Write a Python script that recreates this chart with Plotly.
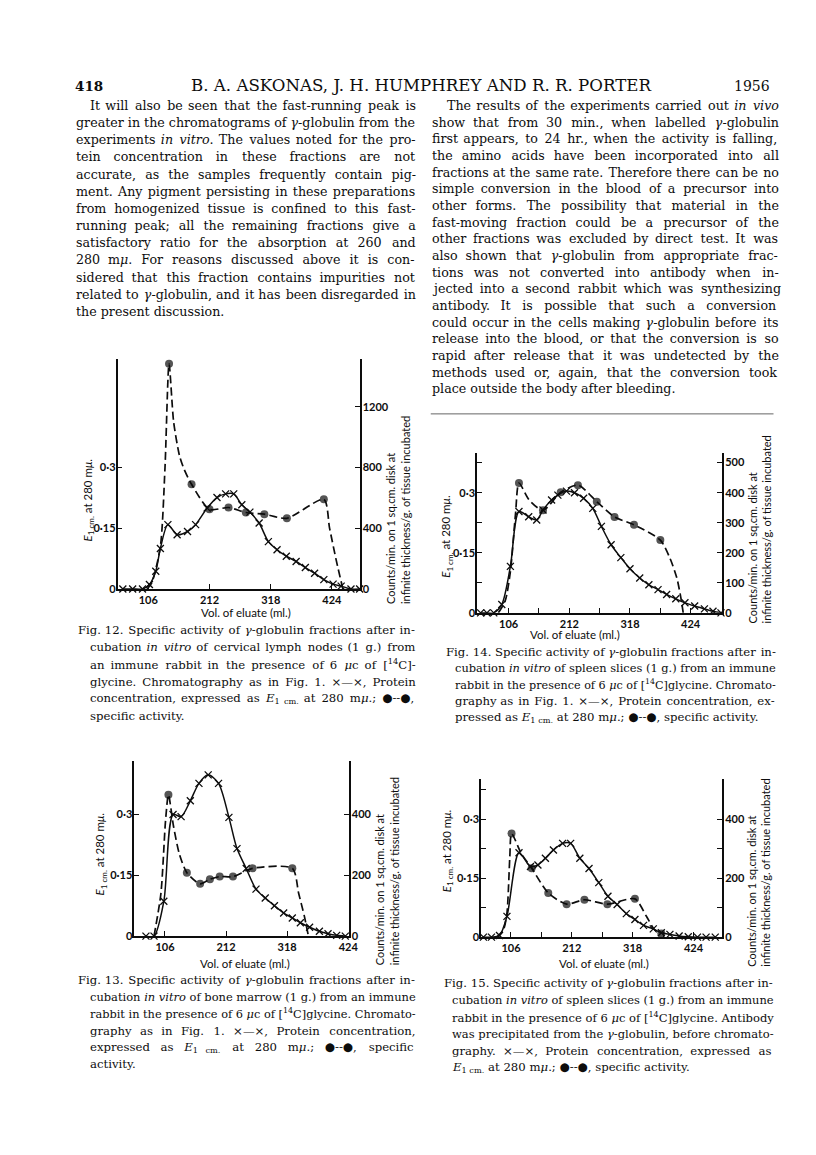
import glob
import re
import struct

import plotly.graph_objects as go

W, H = 816, 1155

# ---------------- data (read from the page) ----------------
# Fig. 12
f12_prot_x = [62, 79, 96, 108, 119, 127, 140, 156, 174, 188, 208, 225, 240, 254, 268, 282, 298, 314, 329, 345, 362, 378, 394, 410, 426, 440, 457, 472]
f12_prot_y = [0, 0, 0, 0.011, 0.044, 0.10, 0.159, 0.134, 0.142, 0.159, 0.20, 0.226, 0.235, 0.235, 0.208, 0.19, 0.163, 0.117, 0.097, 0.081, 0.068, 0.053, 0.039, 0.023, 0.012, 0.007, 0, 0]
f12_act_x = [104, 112, 127, 135, 142, 150, 160, 168, 181, 212, 245, 275, 307, 346, 410, 420, 432, 443]
f12_act_y = [0, 40, 280, 800, 1485, 1100, 880, 790, 690, 525, 537, 504, 493, 466, 591, 400, 180, 0]
f12_act_measured = [0, 0, 0, 0, 1, 0, 0, 0, 1, 1, 1, 1, 1, 1, 1, 0, 0, 0]

# Fig. 14
f14_prot_x = [57, 68, 80, 94, 109, 124, 141, 155, 166, 181, 192, 207, 221, 237, 253, 268, 285, 302, 318, 335, 351, 367, 382, 398, 414, 431, 448, 463, 477]
f14_prot_y = [0, 0, 0, 0.021, 0.116, 0.253, 0.24, 0.232, 0.257, 0.282, 0.294, 0.304, 0.300, 0.286, 0.261, 0.216, 0.170, 0.138, 0.110, 0.087, 0.070, 0.058, 0.046, 0.035, 0.025, 0.017, 0.010, 0.004, 0]
f14_act_x = [88, 100, 109, 118, 124, 142, 166, 197, 227, 260, 291, 325, 371, 388, 400, 407, 411]
f14_act_y = [0, 40, 137, 330, 432, 375, 341, 401, 425, 370, 319, 293, 242, 181, 115, 49, 0]
f14_act_measured = [0, 0, 0, 0, 1, 0, 1, 1, 1, 1, 1, 1, 1, 0, 0, 0, 0]

# Fig. 13
f13_prot_x = [73, 87, 104, 120, 134, 150, 165, 181, 199, 217, 231, 247, 264, 280, 296, 312, 327, 341, 357, 374, 389, 404, 419]
f13_prot_y = [0, 0, 0.086, 0.30, 0.295, 0.334, 0.377, 0.398, 0.377, 0.293, 0.216, 0.167, 0.116, 0.094, 0.075, 0.057, 0.045, 0.033, 0.022, 0.012, 0.006, 0.002, 0]
f13_act_x = [87, 99, 107, 112, 121, 131, 144, 167, 184, 201, 224, 258, 327, 338, 348, 355]
f13_act_y = [0, 141, 380, 465, 360, 270, 209, 172, 187, 196, 196, 223, 223, 141, 65, 0]
f13_act_measured = [0, 0, 0, 1, 0, 0, 1, 1, 1, 1, 1, 1, 1, 0, 0, 0]

# Fig. 15
f15_prot_x = [58, 72, 86, 99, 120, 140, 153, 166, 180, 196, 210, 226, 242, 259, 275, 291, 307, 322, 337, 354, 368, 383, 399, 415, 431, 446, 462]
f15_prot_y = [0, 0, 0.004, 0.053, 0.215, 0.180, 0.184, 0.201, 0.222, 0.239, 0.239, 0.201, 0.175, 0.139, 0.104, 0.083, 0.060, 0.045, 0.030, 0.021, 0.011, 0.007, 0.003, 0.001, 0, 0, 0]
f15_act_x = [81, 93, 99, 104, 107, 124, 142, 171, 203, 234, 274, 322, 342, 356, 368]
f15_act_y = [0, 26, 82, 273, 352, 284, 234, 150, 112, 127, 112, 130, 71, 26, 12]
f15_act_measured = [0, 0, 0, 0, 1, 0, 1, 1, 1, 1, 1, 1, 0, 0, 1]

x_major_ticks = [106, 212, 318, 424]
x_minor_ticks = [159, 265, 371]

# ---------------- text of the page ----------------
header_left = "418"
header_mid = "B. A. ASKONAS, J. H. HUMPHREY AND R. R. PORTER"
header_right = "1956"

left_lines = [
    "It will also be seen that the fast-running peak is",
    "greater in the chromatograms of <i>γ</i>-globulin from the",
    "experiments <i>in vitro</i>. The values noted for the pro-",
    "tein concentration in these fractions are not",
    "accurate, as the samples frequently contain pig-",
    "ment. Any pigment persisting in these preparations",
    "from homogenized tissue is confined to this fast-",
    "running peak; all the remaining fractions give a",
    "satisfactory ratio for the absorption at 260 and",
    "280 m<i>μ</i>. For reasons discussed above it is con-",
    "sidered that this fraction contains impurities not",
    "related to <i>γ</i>-globulin, and it has been disregarded in",
    "the present discussion.",
]
right_lines = [
    "The results of the experiments carried out <i>in vivo</i>",
    "show that from 30 min., when labelled <i>γ</i>-globulin",
    "first appears, to 24 hr., when the activity is falling,",
    "the amino acids have been incorporated into all",
    "fractions at the same rate. Therefore there can be no",
    "simple conversion in the blood of a precursor into",
    "other forms. The possibility that material in the",
    "fast-moving fraction could be a precursor of the",
    "other fractions was excluded by direct test. It was",
    "also shown that <i>γ</i>-globulin from appropriate frac-",
    "tions was not converted into antibody when in-",
    "jected into a second rabbit which was synthesizing",
    "antibody. It is possible that such a conversion",
    "could occur in the cells making <i>γ</i>-globulin before its",
    "release into the blood, or that the conversion is so",
    "rapid after release that it was undetected by the",
    "methods used or, again, that the conversion took",
    "place outside the body after bleeding.",
]
E_TXT = "<i>E</i><sub>1 cm.</sub>"
cap12 = [
    "Fig. 12. Specific activity of <i>γ</i>-globulin fractions after in-",
    "cubation <i>in vitro</i> of cervical lymph nodes (1 g.) from",
    "an immune rabbit in the presence of 6 <i>μ</i>c of [<sup>14</sup>C]-",
    "glycine. Chromatography as in Fig. 1. ×—×, Protein",
    "concentration, expressed as " + E_TXT + " at 280 m<i>μ</i>.; ●--●,",
    "specific activity.",
]
cap14 = [
    "Fig. 14. Specific activity of <i>γ</i>-globulin fractions after in-",
    "cubation <i>in vitro</i> of spleen slices (1 g.) from an immune",
    "rabbit in the presence of 6 <i>μ</i>c of [<sup>14</sup>C]glycine. Chromato-",
    "graphy as in Fig. 1. ×—×, Protein concentration, ex-",
    "pressed as " + E_TXT + " at 280 m<i>μ</i>.; ●--●, specific activity.",
]
cap13 = [
    "Fig. 13. Specific activity of <i>γ</i>-globulin fractions after in-",
    "cubation <i>in vitro</i> of bone marrow (1 g.) from an immune",
    "rabbit in the presence of 6 <i>μ</i>c of [<sup>14</sup>C]glycine. Chromato-",
    "graphy as in Fig. 1. ×—×, Protein concentration,",
    "expressed as " + E_TXT + " at 280 m<i>μ</i>.; ●--●, specific",
    "activity.",
]
cap15 = [
    "Fig. 15. Specific activity of <i>γ</i>-globulin fractions after in-",
    "cubation <i>in vitro</i> of spleen slices (1 g.) from an immune",
    "rabbit in the presence of 6 <i>μ</i>c of [<sup>14</sup>C]glycine. Antibody",
    "was precipitated from the <i>γ</i>-globulin, before chromato-",
    "graphy. ×—×, Protein concentration, expressed as",
    E_TXT + " at 280 m<i>μ</i>.; ●--●, specific activity.",
]
E_TITLE = "<i>E</i><sub>1 cm.</sub> at 280 m<i>μ</i>."
R_TITLE = "Counts/min. on 1 sq.cm. disk at<br>infinite thickness/g. of tissue incubated"
X_TITLE = "Vol. of eluate (ml.)"


# ---------------- font metrics (for justified lines) ----------------
def load_advance(pattern):
    paths = glob.glob("/usr/share/fonts/**/" + pattern, recursive=True) + \
        glob.glob("/usr/local/share/fonts/**/" + pattern, recursive=True)
    if not paths:
        return None
    try:
        data = open(paths[0], "rb").read()
        ntab = struct.unpack(">H", data[4:6])[0]
        tabs = {}
        for i in range(ntab):
            tag, _, off, ln = struct.unpack(">4sIII", data[12 + 16 * i:28 + 16 * i])
            tabs[tag.decode("latin1")] = off
        upem = struct.unpack(">H", data[tabs["head"] + 18:tabs["head"] + 20])[0]
        nhm = struct.unpack(">H", data[tabs["hhea"] + 34:tabs["hhea"] + 36])[0]
        ho = tabs["hmtx"]
        adv = [struct.unpack(">H", data[ho + 4 * i:ho + 4 * i + 2])[0] for i in range(nhm)]
        co = tabs["cmap"]
        nsub = struct.unpack(">H", data[co + 2:co + 4])[0]
        cmap = {}
        for i in range(nsub):
            pid, eid, soff = struct.unpack(">HHI", data[co + 4 + 8 * i:co + 12 + 8 * i])
            st = co + soff
            if struct.unpack(">H", data[st:st + 2])[0] != 4:
                continue
            seg2 = struct.unpack(">H", data[st + 6:st + 8])[0]
            seg = seg2 // 2
            ends = struct.unpack(">%dH" % seg, data[st + 14:st + 14 + seg2])
            starts = struct.unpack(">%dH" % seg, data[st + 16 + seg2:st + 16 + 2 * seg2])
            deltas = struct.unpack(">%dh" % seg, data[st + 16 + 2 * seg2:st + 16 + 3 * seg2])
            rpos = st + 16 + 3 * seg2
            roffs = struct.unpack(">%dH" % seg, data[rpos:rpos + seg2])
            for s in range(seg):
                for c in range(starts[s], ends[s] + 1):
                    if c == 0xFFFF:
                        continue
                    if roffs[s] == 0:
                        g = (c + deltas[s]) & 0xFFFF
                    else:
                        a = rpos + 2 * s + roffs[s] + 2 * (c - starts[s])
                        g = struct.unpack(">H", data[a:a + 2])[0]
                        if g:
                            g = (g + deltas[s]) & 0xFFFF
                    cmap[c] = g
            break

        def advance(ch):
            g = cmap.get(ord(ch))
            if g is None:
                return None
            return (adv[g] if g < len(adv) else adv[-1]) / upem
        return advance
    except Exception:
        return None


ADV_R = load_advance("DejaVuSerif.ttf")
ADV_I = load_advance("DejaVuSerif-Italic.ttf") or ADV_R
PAD_CH, PAD_W = None, None
if ADV_R:
    for cand in ("\u200a", "\u2009", "\u2006", "\u00a0"):
        w = ADV_R(cand)
        if w:
            PAD_CH, PAD_W = cand, w
            break


def measure(s, size):
    if not ADV_R:
        return None
    total, ital, small = 0.0, False, False
    for tok in re.split(r"(<[^>]+>)", s):
        if tok.startswith("<"):
            t = tok.lower()
            if t == "<i>":
                ital = True
            elif t == "</i>":
                ital = False
            elif t in ("<sub>", "<sup>"):
                small = True
            elif t in ("</sub>", "</sup>"):
                small = False
            continue
        f = ADV_I if ital else ADV_R
        for ch in tok:
            a = f(ch)
            if a is None:
                a = ADV_R(ch) or 0.6
            total += a * size * (0.7 if small else 1.0)
    return total


def justify(s, size, width):
    """Pad the word gaps of one printed line so it fills the column width."""
    w = measure(s, size)
    if w is None or PAD_CH is None:
        return s, size
    gaps = s.count(" ")
    deficit = width - w
    if deficit < 0:
        return s, size * max(0.94, width / w)
    if gaps == 0:
        return s, size
    units = int(round(deficit / (PAD_W * size)))
    parts = s.split(" ")
    out = parts[0]
    for i in range(gaps):
        k = units * (i + 1) // gaps - units * i // gaps
        out += " " + PAD_CH * k + parts[i + 1]
    return out, size


def fit_size(groups, lo, hi, default, mode="min"):
    """Font size at which the full lines of the groups fill their measure."""
    if not ADV_R:
        return default
    ratios = []
    for lines, x_first, x_rest, right in groups:
        for i, s in enumerate(lines[:-1]):
            x = x_first if i == 0 else x_rest
            ratios.append((right - x) / measure(s, 1.0))
    ratios.sort()
    if mode == "min":
        val = ratios[0] * 0.995
    else:
        val = ratios[len(ratios) // 2] * 0.975
    return max(lo, min(hi, val))


# ---------------- figure ----------------
def fx(p):
    return p / W


def fy(p):
    return 1 - p / H


INK = "#0d0d0d"
TICKFONT = dict(family="Lato", size=11, color=INK, weight="bold")

fig = go.Figure()

panels = [
    dict(n=1, dom=(111, 356, 353, 584), xr=(53, 472), yl=(0, 0.568), yr=(0, 1515),
         xt=x_major_ticks, xminor=[],
         ylt=[0, 0.15, 0.3], yltt=["0", "0·15", "0·3"], ylminor=[],
         yrt=[0, 400, 800, 1200], yrminor=[],
         prot=(f12_prot_x, f12_prot_y), act=(f12_act_x, f12_act_y, f12_act_measured)),
    dict(n=2, dom=(475, 723, 447, 608), xr=(51, 479), yl=(0, 0.40), yr=(0, 533),
         xt=x_major_ticks, xminor=x_minor_ticks,
         ylt=[0, 0.15, 0.3], yltt=["0", "0·15", "0·3"], ylminor=[0.075, 0.225, 0.375],
         yrt=[0, 100, 200, 300, 400, 500], yrminor=[],
         prot=(f14_prot_x, f14_prot_y), act=(f14_act_x, f14_act_y, f14_act_measured)),
    dict(n=3, dom=(128, 345, 757, 933), xr=(53, 425), yl=(0, 0.432), yr=(0, 576),
         xt=x_major_ticks, xminor=[],
         ylt=[0, 0.15, 0.3], yltt=["0", "0·15", "0·3"], ylminor=[],
         yrt=[0, 200, 400], yrminor=[],
         prot=(f13_prot_x, f13_prot_y), act=(f13_act_x, f13_act_y, f13_act_measured)),
    dict(n=4, dom=(479, 723, 775, 934), xr=(54, 474), yl=(0, 0.403), yr=(0, 537),
         xt=x_major_ticks, xminor=x_minor_ticks,
         ylt=[0, 0.15, 0.3], yltt=["0", "0·15", "0·3"], ylminor=[0.075, 0.225, 0.375],
         yrt=[0, 200, 400], yrminor=[100, 300],
         prot=(f15_prot_x, f15_prot_y), act=(f15_act_x, f15_act_y, f15_act_measured)),
]


def minor_spec(vals):
    if not vals:
        return dict(ticks="")
    return dict(tickmode="array", tickvals=vals, ticks="inside", ticklen=5, tickwidth=1.4, tickcolor=INK)


layout = {}
for p in panels:
    n = p["n"]
    x0, x1, ytop, ybot = p["dom"]
    xname = "x" if n == 1 else f"x{n}"
    yl_i, yr_i = 2 * n - 1, 2 * n
    yl_name = "y" if yl_i == 1 else f"y{yl_i}"
    yr_name = f"y{yr_i}"
    xkey = "xaxis" if n == 1 else f"xaxis{n}"
    ylkey = "yaxis" if yl_i == 1 else f"yaxis{yl_i}"
    yrkey = f"yaxis{yr_i}"
    common = dict(showgrid=False, zeroline=False, showline=True, linecolor=INK, linewidth=1.7,
                  tickmode="array", ticks="inside", ticklen=5, tickwidth=1.4, tickcolor=INK,
                  tickfont=TICKFONT)
    layout[xkey] = dict(domain=[fx(x0), fx(x1)], range=list(p["xr"]), anchor=yl_name,
                        tickvals=p["xt"], ticktext=[str(v) for v in p["xt"]],
                        minor=minor_spec(p["xminor"]), **common)
    layout[ylkey] = dict(domain=[fy(ybot), fy(ytop)], range=list(p["yl"]), anchor=xname,
                         tickvals=p["ylt"], ticktext=p["yltt"], ticklabelstandoff=-2,
                         minor=minor_spec(p["ylminor"]), **common)
    layout[yrkey] = dict(range=list(p["yr"]), overlaying=yl_name, side="right", anchor=xname,
                         tickvals=p["yrt"], ticktext=[str(v) for v in p["yrt"]], ticklabelstandoff=-1,
                         minor=minor_spec(p["yrminor"]), **common)
    px_, py_ = p["prot"]
    fig.add_trace(go.Scatter(x=px_, y=py_, xaxis=xname, yaxis=yl_name, mode="lines+markers",
                             line=dict(color=INK, width=1.5, shape="spline", smoothing=0.8),
                             marker=dict(symbol="x-thin", size=7, line=dict(width=1.3, color=INK), color=INK),
                             cliponaxis=False, showlegend=False, hoverinfo="skip"))
    ax_, ay_, am_ = p["act"]
    fig.add_trace(go.Scatter(x=ax_, y=ay_, xaxis=xname, yaxis=yr_name, mode="lines+markers",
                             line=dict(color=INK, width=1.7, dash="8px,4px", shape="spline", smoothing=0.7),
                             marker=dict(symbol="circle", size=[8 if m else 0 for m in am_], color=INK,
                                         line=dict(width=0)),
                             cliponaxis=False, showlegend=False, hoverinfo="skip"))

annotations = []


def txt(x, y, s, size=12, family="DejaVu Serif", xanchor="left", yanchor="middle", angle=0,
        align="center", weight="normal"):
    annotations.append(dict(x=fx(x), y=fy(y), xref="paper", yref="paper", text=s, showarrow=False,
                            xanchor=xanchor, yanchor=yanchor, textangle=angle, align=align, borderpad=0,
                            font=dict(family=family, size=size, color=INK, weight=weight)))


# axis titles of the four panels: (E title centre), (right title centre x, bottom y), (x title centre)
for (ex, ey), (rx, rb), (vx, vy) in [((81, 495), (395, 600), (241, 608)),
                                     ((444, 531), (761, 620), (574, 630)),
                                     ((94, 850), (384, 963), (240, 960)),
                                     ((445, 847), (760, 965), (603, 960))]:
    txt(ex, ey, E_TITLE, size=11.5, family="Lato", xanchor="center", angle=-90)
    txt(rx, rb, R_TITLE, size=11, family="Lato", xanchor="center", yanchor="bottom", angle=-90, align="left")
    txt(vx, vy, X_TITLE, size=11.5, family="Lato", xanchor="center")

# running header
txt(67, 78, header_left, size=13.5, weight="bold")
hw = measure(header_mid, 1.0)
txt(418, 78, header_mid, size=(463 / hw) if hw else 15, xanchor="center")
txt(772, 78, header_right, size=14, xanchor="right")


def column(lines, x_first, x_rest, right, y0, dy, size):
    last = len(lines) - 1
    for i, s in enumerate(lines):
        x = x_first if i == 0 else x_rest
        if i == last:
            s2, sz = s, size
        else:
            s2, sz = justify(s, size, right - x)
        txt(x, y0 + i * dy, s2, size=sz)


body_groups = [(left_lines, 82, 68, 408), (right_lines, 443, 428, 775)]
cap_groups = [(cap12, 70, 82, 408), (cap14, 442, 452, 773), (cap13, 70, 82, 408), (cap15, 440, 448, 770)]
BODY_SIZE = fit_size(body_groups, 12.3, 13.2, 12.5, mode="min")
CAP_SIZE = fit_size(cap_groups, 11.0, 12.0, 11.4, mode="median")

column(left_lines, 82, 68, 408, 98, 17.25, BODY_SIZE)
column(right_lines, 443, 428, 775, 98, 16.75, BODY_SIZE)
column(cap12, 70, 82, 408, 625, 17.4, CAP_SIZE)
column(cap14, 442, 452, 773, 647, 16.6, CAP_SIZE)
column(cap13, 70, 82, 408, 977, 17.0, CAP_SIZE)
column(cap15, 440, 448, 770, 980, 17.0, CAP_SIZE)

shapes = [dict(type="line", xref="paper", yref="paper", x0=fx(428), x1=fx(775), y0=fy(408), y1=fy(408),
               line=dict(color="#666", width=1))]

fig.update_layout(width=W, height=H, margin=dict(l=0, r=0, t=0, b=0), paper_bgcolor="white",
                  plot_bgcolor="rgba(0,0,0,0)", annotations=annotations, shapes=shapes, **layout)

fig.write_html("out.html")
